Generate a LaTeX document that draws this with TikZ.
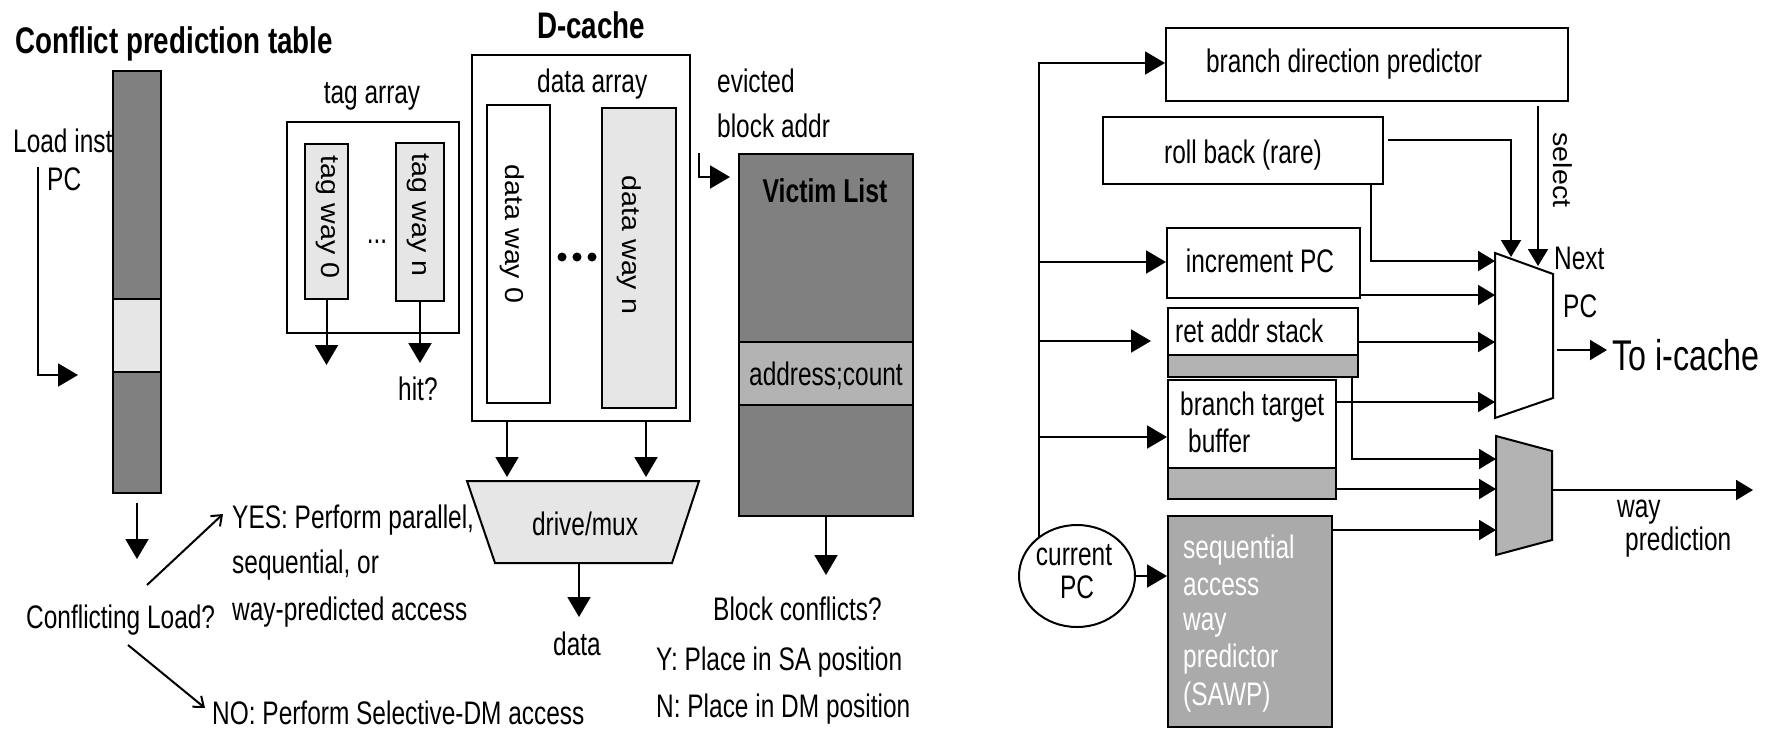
\documentclass[tikz,border=0pt]{standalone}
\usepackage{fontspec}
\setmainfont{Liberation Sans}[FakeStretch=0.75]
\newfontfamily\widesans{Liberation Sans}[FakeStretch=1.1]
\usetikzlibrary{arrows.meta,shapes.geometric}
\definecolor{dg}{HTML}{808080}
\definecolor{lg}{HTML}{E6E6E6}
\definecolor{mg}{HTML}{B3B3B3}
\definecolor{sg}{HTML}{AAAAAA}
\begin{document}
\begin{tikzpicture}[x=1pt,y=-1pt,
  lw/.style={line width=2pt},
  box/.style={draw, line width=2pt, inner sep=0pt, rectangle},
  t/.style={font=\fontsize{32.6pt}{40pt}\selectfont, inner sep=0pt},
  tb/.style={font=\fontsize{37pt}{40pt}\selectfont\bfseries, inner sep=0pt},
  tr/.style={font=\widesans\fontsize{26pt}{30pt}\selectfont, inner sep=0pt, rotate=-90},
  arr/.style={line width=2pt, -{Triangle[length=20pt,width=23pt]}},
  arrs/.style={line width=2pt, -{Triangle[length=17pt,width=20pt]}},
  barb/.style={line width=2pt, -{Straight Barb[length=9pt,width=14pt]}},
  ]
\fill[white] (0,0) rectangle (1777,729);
\useasboundingbox (0,0) rectangle (1777,729);

% ---------- Conflict prediction table
\node[tb, anchor=base west] (cpttitle) at (15,53) {Conflict prediction table};
\node[box, fill=dg, minimum width=48pt, minimum height=422pt] (cpt) at (137,282) {};
\node[box, fill=lg, minimum width=48pt, minimum height=73pt] (cptsel) at (137,335.5) {};
\node[t, anchor=base west] (li) at (13,152) {Load inst};
\node[t, anchor=base west] (lipc) at (47,190) {PC};
\coordinate (pcs) at (38,167);
\coordinate (pct) at (78,375);
\draw[arr] (pcs) |- (pct);
\coordinate (cldown) at (137,559);
\draw[arr] ([yshift=-9pt]cpt.south) -- (cldown);
\node[t, anchor=base west] (cl) at (26,628) {Conflicting Load?};
\coordinate (yesA) at (147,585);
\coordinate (yesB) at (223,514);
\draw[barb] (yesA) -- (yesB);
\node[t, anchor=base west] (yes1) at (232,528) {YES: Perform parallel,};
\node[t, anchor=base west] (yes2) at (232,573) {sequential, or};
\node[t, anchor=base west] (yes3) at (232,620) {way-predicted access};
\coordinate (noA) at (128,645);
\coordinate (noB) at (205,708);
\draw[barb] (noA) -- (noB);
\node[t, anchor=base west] (no) at (212,724) {NO: Perform Selective-DM access};

% ---------- tag array
\node[t, anchor=base] (talabel) at (372,103) {tag array};
\node[box, minimum width=172pt, minimum height=211pt] (ta) at (373,227.5) {};
\node[box, fill=lg, minimum width=43pt, minimum height=155pt] (tw0) at (326.5,221.5) {};
\node[tr] (tw0t) at (328,217) {tag way 0};
\node[box, fill=lg, minimum width=48pt, minimum height=158pt] (twn) at (420,222) {};
\node[tr] (twnt) at (418,215) {tag way n};
\node[t] (tdots) at (377,242) {...};
\coordinate (tw0o) at (326.5,365);
\draw[arr] (tw0.south) -- (tw0o);
\coordinate (twno) at (420,363);
\draw[arr] (twn.south) -- (twno);
\node[t, anchor=base west] (hit) at (398,400) {hit?};

% ---------- D-cache
\node[tb, anchor=base west] (dctitle) at (537,38) {D-cache};
\node[box, minimum width=218pt, minimum height=366pt] (dc) at (581,238) {};
\node[t, anchor=base west] (dalabel) at (537,92) {data array};
\node[box, fill=white, minimum width=63pt, minimum height=298pt] (dw0) at (518.5,254) {};
\node[tr] (dw0t) at (512,234) {data way 0};
\node[box, fill=lg, minimum width=74pt, minimum height=300pt] (dwn) at (639,258) {};
\node[tr] (dwnt) at (629,245) {data way n};
\foreach \x in {562,577,592} \fill (\x,257) circle (4.5pt);
\coordinate (m1) at (507,477);
\coordinate (m2) at (646,477);
\draw[arr] (dc.south -| m1) -- (m1);
\draw[arr] (dc.south -| m2) -- (m2);
\draw[lw, fill=lg] (467,481) -- (699,481) -- (672,563) -- (495,563) -- cycle;
\node[t, anchor=base] (dm) at (585,535) {drive/mux};
\coordinate (dmo) at (579,563);
\coordinate (dmt) at (579,617);
\draw[arr] (dmo) -- (dmt);
\node[t, anchor=base west] (data) at (553,655) {data};

% ---------- Victim list
\node[t, anchor=base west] (ev1) at (717,92) {evicted};
\node[t, anchor=base west] (ev2) at (717,137) {block addr};
\coordinate (evs) at (699,153);
\coordinate (evt) at (730,177);
\draw[arr] (evs) |- (evt);
\node[box, fill=dg, minimum width=174pt, minimum height=362pt] (vl) at (826,335) {};
\node[tb, font=\fontsize{33pt}{40pt}\selectfont\bfseries, anchor=base] (vlt) at (825,202) {Victim List};
\node[box, fill=mg, minimum width=174pt, minimum height=63pt] (ac) at (826,373.5) {};
\node[t, anchor=base] (act) at (826,385) {address;count};
\coordinate (vlo) at (826,575);
\draw[arr] (vl.south) -- (vlo);
\node[t, anchor=base west] (bc) at (713,620) {Block conflicts?};
\node[t, anchor=base west] (bcy) at (656,670) {Y: Place in SA position};
\node[t, anchor=base west] (bcn) at (656,717) {N: Place in DM position};

% ---------- Right: next PC logic
\node[box, minimum width=402pt, minimum height=73pt] (bdp) at (1367,64.5) {};
\node[t, anchor=base] (bdpt) at (1344,72) {branch direction predictor};
\node[box, minimum width=280pt, minimum height=67pt] (rb) at (1243,150.5) {};
\node[t, anchor=base] (rbt) at (1243,163) {roll back (rare)};
\node[box, minimum width=193pt, minimum height=70pt] (inc) at (1263.5,263) {};
\node[t, anchor=base] (inct) at (1260,272) {increment PC};
\node[box, minimum width=190pt, minimum height=47pt] (ras) at (1263,331.5) {};
\node[t, anchor=base west] (rast) at (1175,342) {ret addr stack};
\node[box, fill=mg, minimum width=190pt, minimum height=22pt] (rasg) at (1263,366) {};
\node[box, minimum width=168pt, minimum height=88pt] (btb) at (1252,424) {};
\node[t, anchor=base west] (btbt1) at (1180,415) {branch target};
\node[t, anchor=base west] (btbt2) at (1188,452) {buffer};
\node[box, fill=mg, minimum width=168pt, minimum height=31pt] (btbg) at (1252,483.5) {};
\node[box, fill=sg, minimum width=164pt, minimum height=211pt] (sawp) at (1250,621.5) {};
\node[t, text=white, anchor=base west] (sw1) at (1183,558) {sequential};
\node[t, text=white, anchor=base west] (sw2) at (1183,595) {access};
\node[t, text=white, anchor=base west] (sw3) at (1183,630) {way};
\node[t, text=white, anchor=base west] (sw4) at (1183,667) {predictor};
\node[t, text=white, anchor=base west] (sw5) at (1183,705) {(SAWP)};
\node[draw, line width=2pt, ellipse, minimum width=116pt, minimum height=102pt, inner sep=0pt] (cpc) at (1077,576) {};
\node[t, anchor=base] (cpct1) at (1074,565) {current};
\node[t, anchor=base] (cpct2) at (1077,598) {PC};

\coordinate (bb) at (1039,537);
\coordinate (bt) at (1039,63);
\draw[arr] (bb) -- (bt) -- (bdp.west |- bt);
\coordinate (b2) at (1039,262);
\draw[arr] (b2) -- (inc.west |- b2);
\coordinate (b3) at (1039,341);
\draw[arr, shorten >=16pt] (b3) -- (ras.west |- b3);
\coordinate (b4) at (1039,437);
\draw[arr] (b4) -- (btb.west |- b4);
\draw[arr] (cpc.east) -- (sawp.west |- cpc.east);

% mux 1
\coordinate (m1a) at (1495,253);
\coordinate (m1b) at (1553,274);
\coordinate (m1c) at (1553,398);
\coordinate (m1d) at (1495,418);
\draw[lw, fill=white] (m1a) -- (m1b) -- (m1c) -- (m1d) -- cycle;
\coordinate (i1) at (1495,261);
\draw[arrs] ([xshift=128pt]rb.south) |- (i1);
\coordinate (i2) at (1495,295);
\draw[arrs] (inc.east |- i2) -- (i2);
\coordinate (i3) at (1495,342);
\draw[arrs] (ras.east |- i3) -- (i3);
\coordinate (i4) at (1495,402);
\draw[arrs] (btb.east |- i4) -- (i4);
\coordinate (rbr) at (1388,140);
\coordinate (s1) at (1511,257);
\draw[arrs] (rbr) -| (s1);
\coordinate (s2) at (1538,266);
\draw[arrs] ([yshift=-4pt]bdp.south -| s2) -- (s2);
\node[tr] (sel) at (1563,170) {select};
\node[t, anchor=base west] (nx1) at (1554,269) {Next};
\node[t, anchor=base west] (nx2) at (1563,317) {PC};
\coordinate (o1s) at (1557,350);
\coordinate (o1t) at (1607,350);
\draw[arrs] (o1s) -- (o1t);
\node[font=\fontsize{43pt}{48pt}\selectfont, inner sep=0pt, anchor=base west] (toic) at (1612,370) {To i-cache};

% mux 2
\draw[lw, fill=mg] (1496,436) -- (1552,451) -- (1552,540) -- (1496,555) -- cycle;
\coordinate (j1) at (1496,459);
\draw[arrs] ([xshift=89pt]rasg.south) |- (j1);
\coordinate (j2) at (1496,489);
\draw[arrs] (btbg.east |- j2) -- (j2);
\coordinate (j3) at (1496,530);
\draw[arrs] (sawp.east |- j3) -- (j3);
\coordinate (w1) at (1552,490);
\coordinate (w2) at (1753,490);
\draw[arrs] (w1) -- (w2);
\node[t, anchor=base west] (wp1) at (1617,517) {way};
\node[t, anchor=base west] (wp2) at (1625,550) {prediction};
\end{tikzpicture}
\end{document}
